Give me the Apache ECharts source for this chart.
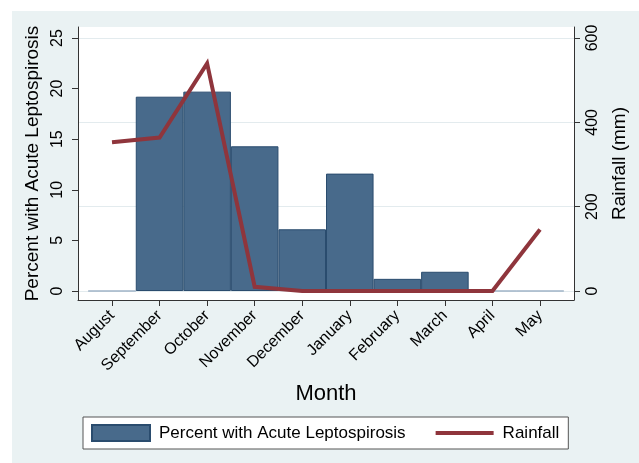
<!DOCTYPE html>
<html>
<head>
<meta charset="utf-8">
<script src="https://cdn.jsdelivr.net/npm/echarts@6/dist/echarts.min.js"></script>
<style>
  html, body { margin: 0; padding: 0; background: #ffffff; }
  #bg { position: absolute; left: 12px; top: 11px; width: 627px; height: 452px; background: #EAF2F3; }
  #chart { position: absolute; left: 0; top: 0; width: 639px; height: 463px; }
</style>
</head>
<body>
<div id="bg"></div>
<div id="chart"></div>
<script>
// ---- data ----
const months = ['August', 'September', 'October', 'November', 'December', 'January', 'February', 'March', 'April', 'May'];
const percentLepto = [0, 19.2, 19.7, 14.3, 6.1, 11.6, 1.2, 1.9, 0, 0];
const rainfallMm = [353, 364, 540, 10, 0, 0, 0, 0, 0, 146];
const leftTicks = [0, 5, 10, 15, 20, 25];
const rightTicks = [0, 200, 400, 600];
const monthIndex = months.map((m, i) => i);

const FONT = '"Liberation Sans", Arial, sans-serif';
const chart = echarts.init(document.getElementById('chart'), null, { renderer: 'canvas' });

// zero-height bars show only as a faint base line
const barData = percentLepto.map((v, i) =>
  v === 0 ? { value: [i, v], itemStyle: { borderColor: '#9fb3c6' } } : [i, v]);
const lineData = rainfallMm.map((v, i) => [i, v]);

const option = {
  animation: false,
  textStyle: { fontFamily: FONT, color: '#000' },
  grid: {
    left: 78, right: 65, top: 27, bottom: 163,
    show: true, backgroundColor: '#ffffff', borderWidth: 0
  },
  xAxis: {
    type: 'value',
    min: -0.715, max: 9.715,
    name: 'Month',
    nameLocation: 'middle',
    nameGap: 83,
    nameTextStyle: { fontSize: 22, fontFamily: FONT, color: '#000' },
    axisLine: { show: true, onZero: false, lineStyle: { color: '#333', width: 1 } },
    axisTick: { show: true, length: 6, customValues: monthIndex, lineStyle: { color: '#333' } },
    axisLabel: {
      customValues: monthIndex,
      rotate: 45, margin: 13, fontSize: 16, fontFamily: FONT, color: '#000',
      formatter: v => months[Math.round(v)] || ''
    },
    splitLine: { show: false }
  },
  yAxis: [
    {
      type: 'value',
      position: 'left',
      min: -0.889, max: 26.087,
      name: 'Percent with Acute Leptospirosis',
      nameLocation: 'middle',
      nameRotate: 90,
      nameGap: 35,
      nameTextStyle: { fontSize: 19, fontFamily: FONT, color: '#000' },
      axisLine: { show: true, onZero: false, lineStyle: { color: '#333', width: 1 } },
      axisTick: { show: true, length: 6, customValues: leftTicks, lineStyle: { color: '#333' } },
      axisLabel: { customValues: leftTicks, rotate: 90, margin: 12, fontSize: 16, fontFamily: FONT, color: '#000' },
      splitLine: { show: false }
    },
    {
      type: 'value',
      position: 'right',
      min: -21.34, max: 626.1,
      name: 'Rainfall (mm)',
      nameLocation: 'middle',
      nameRotate: 90,
      nameGap: 36,
      nameTextStyle: { fontSize: 19, fontFamily: FONT, color: '#000' },
      axisLine: { show: true, onZero: false, lineStyle: { color: '#333', width: 1 } },
      axisTick: { show: true, length: 6, customValues: rightTicks, lineStyle: { color: '#333' } },
      axisLabel: { customValues: rightTicks, rotate: 90, margin: 11, fontSize: 16, fontFamily: FONT, color: '#000' },
      splitLine: { show: true, lineStyle: { color: '#e3ebee', width: 1 } }
    }
  ],
  legend: {
    left: 83, top: 417,
    padding: [7, 9, 7, 8],
    itemGap: 30,
    itemWidth: 58, itemHeight: 16,
    backgroundColor: '#ffffff',
    borderColor: '#555', borderWidth: 1, borderRadius: 0,
    textStyle: { fontSize: 17, fontFamily: FONT, color: '#000', padding: [0, 0, 0, 4] },
    data: [
      { name: 'Percent with Acute Leptospirosis', icon: 'rect' },
      { name: 'Rainfall', icon: 'path://M0,0h15v1h-15z', itemStyle: { color: '#8f353c' } }
    ]
  },
  series: [
    {
      name: 'Percent with Acute Leptospirosis',
      type: 'bar',
      xAxisIndex: 0, yAxisIndex: 0,
      data: barData,
      barWidth: '100%',
      itemStyle: { color: '#486a8b', borderColor: '#2a4c6e', borderWidth: 1 }
    },
    {
      name: 'Rainfall',
      type: 'line',
      xAxisIndex: 0, yAxisIndex: 1,
      data: lineData,
      symbol: 'none',
      showSymbol: false,
      lineStyle: { color: '#8f353c', width: 4, join: 'miter', cap: 'butt' },
      itemStyle: { color: '#8f353c' },
      z: 3
    }
  ]
};
chart.setOption(option);
</script>
</body>
</html>
